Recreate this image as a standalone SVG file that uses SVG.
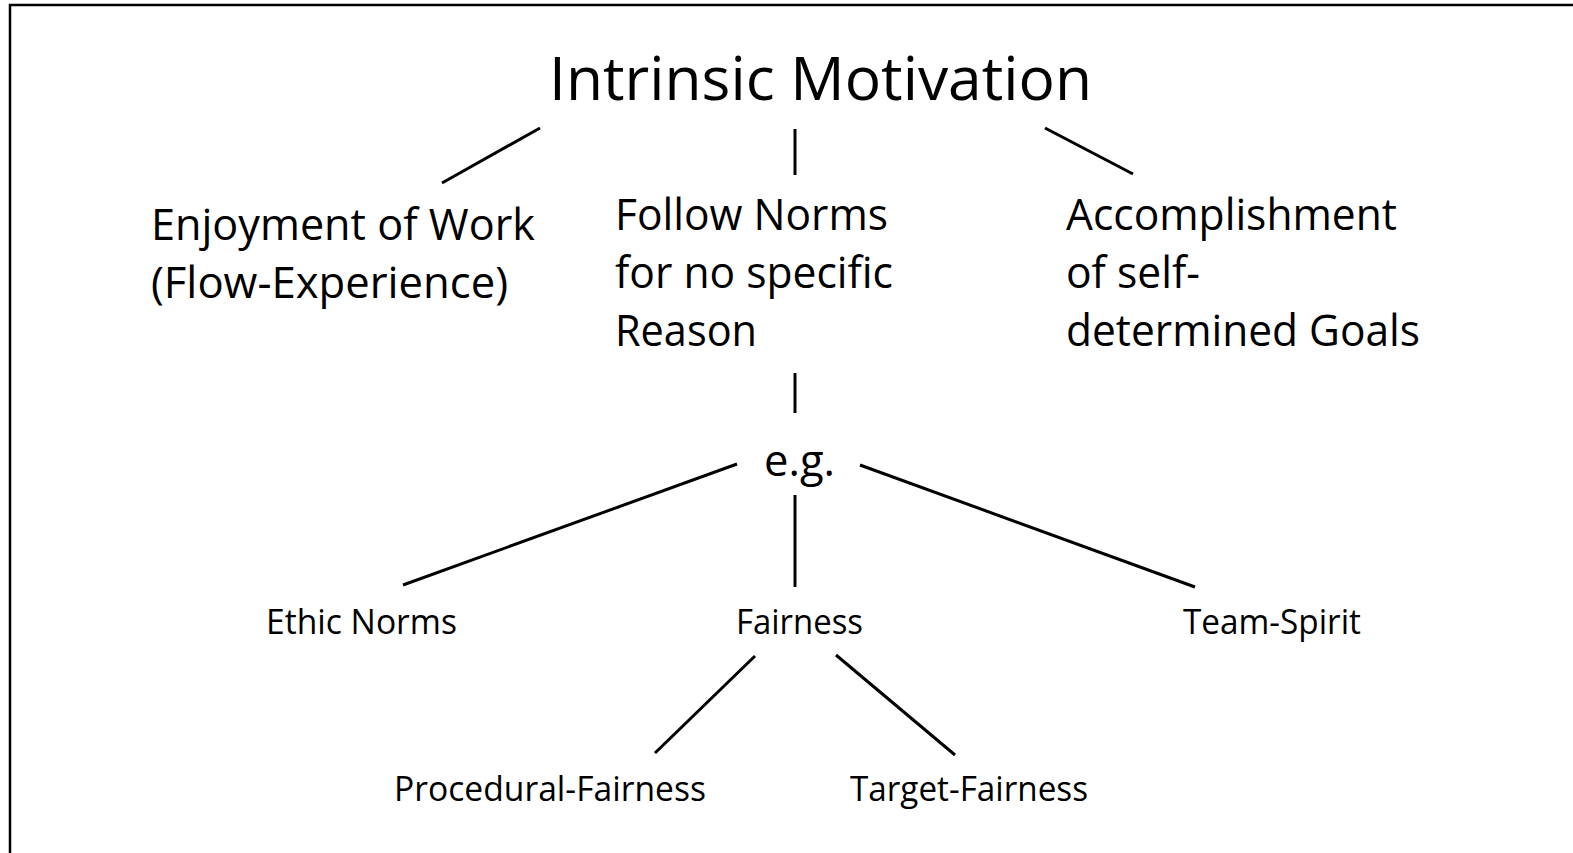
<svg xmlns="http://www.w3.org/2000/svg" width="1573" height="853" viewBox="0 0 1573 853">
<style>
text{font-family:"Open Sans","Noto Sans","Liberation Sans",sans-serif;fill:#000}
.t{font-size:61px}
.b{font-size:43px}
.s{font-size:34.5px}
.c line{stroke:#000;stroke-width:3}
.f{stroke:#000;stroke-width:2.5;fill:none}
</style>
<rect width="1573" height="853" fill="#fff"/>
<path class="f" d="M10,853 V5 H1573"/>
<g id="connectors" class="c">
<line x1="540" y1="128" x2="442" y2="183"/>
<line x1="795" y1="129" x2="795" y2="175"/>
<line x1="1045" y1="128" x2="1133" y2="174"/>
<line x1="795" y1="373" x2="795" y2="413"/>
<line x1="737" y1="464" x2="403" y2="585"/>
<line x1="795" y1="495" x2="795" y2="587"/>
<line x1="860" y1="465" x2="1195" y2="587"/>
<line x1="755" y1="656" x2="655" y2="753"/>
<line x1="836" y1="655" x2="955" y2="755"/>
</g>
<g id="n-title"><text class="t" x="549" y="100" textLength="543" lengthAdjust="spacingAndGlyphs">Intrinsic Motivation</text></g>
<g id="n-enjoy">
<text class="b" x="151" y="240" textLength="384" lengthAdjust="spacingAndGlyphs">Enjoyment of Work</text>
<text class="b" x="151" y="298" textLength="357" lengthAdjust="spacingAndGlyphs">(Flow-Experience)</text>
</g>
<g id="n-follow">
<text class="b" x="615" y="230" textLength="273" lengthAdjust="spacingAndGlyphs">Follow Norms</text>
<text class="b" x="615" y="288" textLength="278" lengthAdjust="spacingAndGlyphs">for no specific</text>
<text class="b" x="615" y="346" textLength="142" lengthAdjust="spacingAndGlyphs">Reason</text>
</g>
<g id="n-accomp">
<text class="b" x="1066" y="230" textLength="331" lengthAdjust="spacingAndGlyphs">Accomplishment</text>
<text class="b" x="1066" y="288" textLength="134" lengthAdjust="spacingAndGlyphs">of self-</text>
<text class="b" x="1066" y="346" textLength="354" lengthAdjust="spacingAndGlyphs">determined Goals</text>
</g>
<g id="n-eg"><text class="b" x="764" y="476" textLength="71" lengthAdjust="spacingAndGlyphs">e.g.</text></g>
<g id="n-ethic"><text class="s" x="266" y="634" textLength="191" lengthAdjust="spacingAndGlyphs">Ethic Norms</text></g>
<g id="n-fair"><text class="s" x="736" y="634" textLength="127" lengthAdjust="spacingAndGlyphs">Fairness</text></g>
<g id="n-team"><text class="s" x="1183" y="634" textLength="178" lengthAdjust="spacingAndGlyphs">Team-Spirit</text></g>
<g id="n-proc"><text class="s" x="394" y="801" textLength="312" lengthAdjust="spacingAndGlyphs">Procedural-Fairness</text></g>
<g id="n-target"><text class="s" x="850" y="801" textLength="238" lengthAdjust="spacingAndGlyphs">Target-Fairness</text></g>
</svg>
